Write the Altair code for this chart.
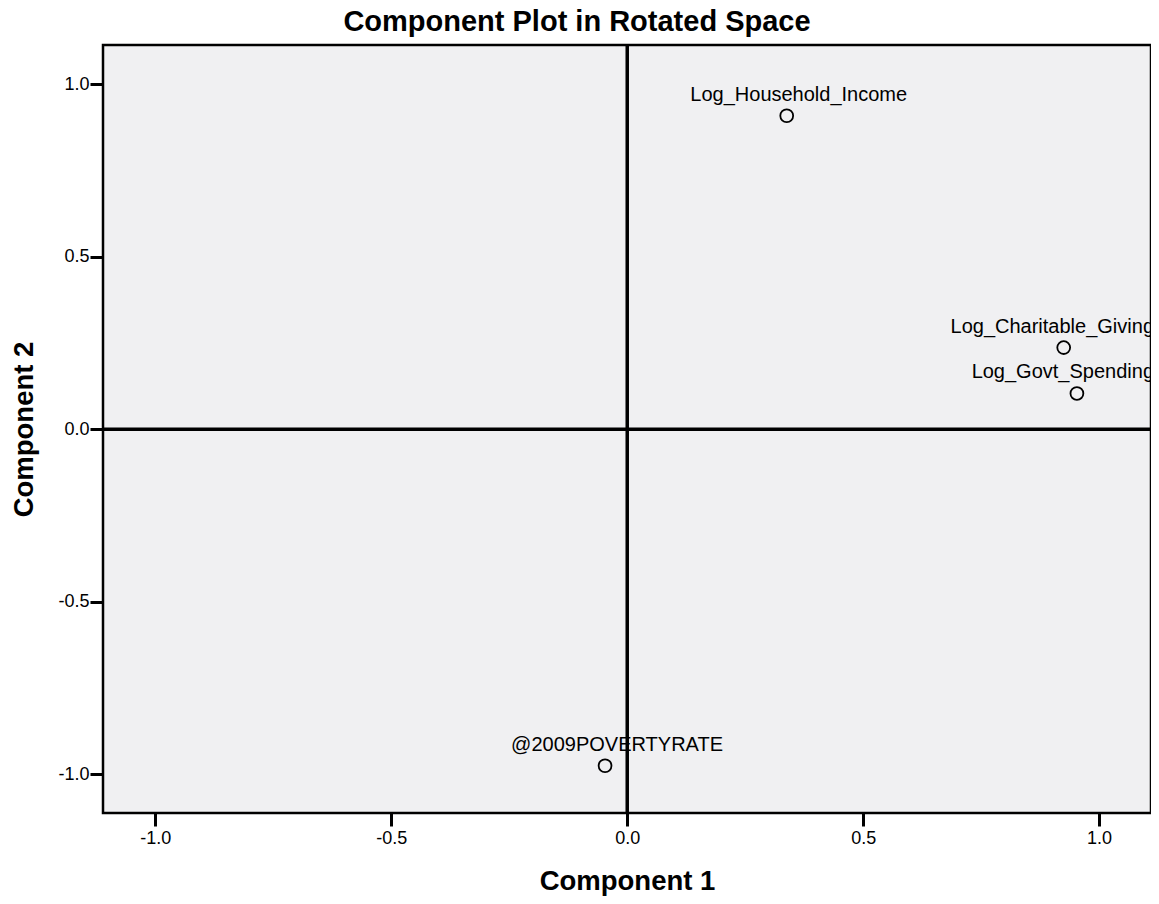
import altair as alt
import pandas as pd

names = ["Log_Household_Income", "Log_Charitable_Giving", "Log_Govt_Spending", "@2009POVERTYRATE"]
comp1 = [0.338, 0.925, 0.953, -0.047]
comp2 = [0.909, 0.237, 0.104, -0.975]
tick_values = [-1.0, -0.5, 0.0, 0.5, 1.0]

df = pd.DataFrame({"name": names, "c1": comp1, "c2": comp2})
zero = pd.DataFrame({"z": [0.0]})

XDOM = [-1.111, 1.110]
YDOM = [-1.112, 1.114]
FONT = "Liberation Sans"
lab = "replace(format(datum.value, '.1f'), '\u2212', '-')"

xenc = alt.X("c1:Q", scale=alt.Scale(domain=XDOM, nice=False, zero=False),
             axis=alt.Axis(title="Component 1", values=tick_values, labelExpr=lab,
                           grid=False, domain=False, tickColor="black", tickWidth=3,
                           tickSize=13, labelFontSize=18, labelColor="black", labelFont=FONT,
                           labelPadding=3, titleFont=FONT, titleFontSize=27.5, titleFontWeight="bold",
                           titleColor="black", titlePadding=20))
yenc = alt.Y("c2:Q", scale=alt.Scale(domain=YDOM, nice=False, zero=False),
             axis=alt.Axis(title="Component 2", values=tick_values, labelExpr=lab,
                           grid=False, domain=False, tickColor="black", tickWidth=3,
                           tickSize=13, labelFontSize=18, labelColor="black", labelFont=FONT,
                           labelPadding=1, titleFont=FONT, titleFontSize=27.5, titleFontWeight="bold",
                           titleColor="black", titlePadding=19))

base = alt.Chart(df)

points = base.mark_point(shape="circle", filled=False, size=165, stroke="black",
                         strokeWidth=1.8, opacity=1).encode(x=xenc, y=yenc)

# labels that fit inside the frame
labels_in = base.transform_filter("datum.c1 < 0.8").mark_text(
    font=FONT, fontSize=20, color="black", baseline="alphabetic",
    align="center", dx=12, dy=-15, clip=True).encode(
    x=alt.X("c1:Q"), y=alt.Y("c2:Q"), text="name:N")

# labels pushed against the right edge of the frame
labels_edge = base.transform_filter("datum.c1 >= 0.8").mark_text(
    font=FONT, fontSize=20, color="black", baseline="alphabetic",
    align="right", dx=3, dy=-15, clip=True).encode(
    x=alt.datum(XDOM[1]), y=alt.Y("c2:Q"), text="name:N")

vline = alt.Chart(zero).mark_rule(color="black", strokeWidth=3.5).encode(x=alt.X("z:Q"))
hline = alt.Chart(zero).mark_rule(color="black", strokeWidth=3.5).encode(y=alt.Y("z:Q"))

chart = alt.layer(vline, hline, points, labels_in, labels_edge).properties(
    width=1048, height=768,
    title=alt.TitleParams("Component Plot in Rotated Space", font=FONT, fontSize=29,
                          fontWeight="bold", color="black", anchor="middle", dx=-50, offset=6),
    autosize=alt.AutoSizeParams(type="none"),
    padding={"left": 95, "top": 37, "right": 0, "bottom": 83},
).configure_view(fill="#f0f0f2", stroke="black", strokeWidth=2.5)

chart.save("out.html", embed_options={"renderer": "svg", "actions": False})
